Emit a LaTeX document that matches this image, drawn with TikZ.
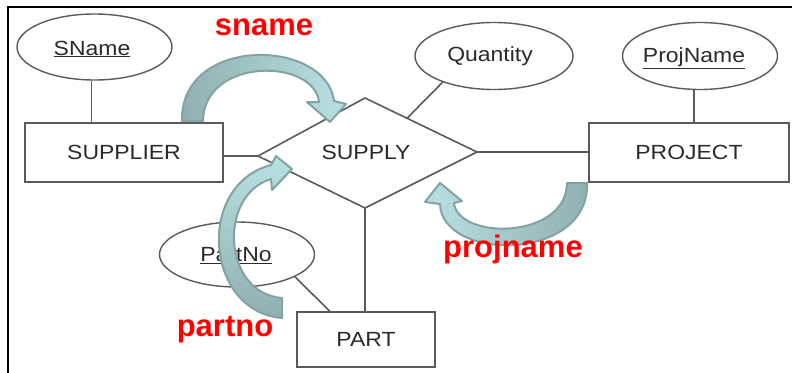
\documentclass[tikz,border=0pt]{standalone}
\usepackage{fontspec}
\setmainfont{Liberation Sans}
\newfontfamily\erfont[FakeStretch=1.12]{Liberation Sans}
\usetikzlibrary{calc,shapes.geometric}
\definecolor{ln}{HTML}{5A5A5A}
\definecolor{tx}{HTML}{2A2A2A}
\definecolor{arrD}{HTML}{84A2A3}
\definecolor{arrM}{HTML}{90AFB0}
\definecolor{arrL}{HTML}{B8E0E3}
\definecolor{lbl}{HTML}{FF0000}
\begin{document}
\begin{tikzpicture}[x=1pt,y=-1pt,
  erfnt/.style={font=\erfont\fontsize{20.5}{24}\selectfont, text=tx},
  ent/.style={erfnt, draw=ln, line width=1.6pt, rectangle, inner sep=0pt},
  attr/.style={draw=ln, line width=1.4pt, ellipse, inner sep=0pt},
  attrtext/.style={erfnt, inner sep=0pt},
  conn/.style={draw=ln, line width=1.6pt},
  blk/.style={draw=arrD, line width=2pt, line join=round},
  lab/.style={text=lbl, font=\bfseries\fontsize{31}{36}\selectfont, anchor=base, inner sep=0pt}]
\useasboundingbox (0,0) rectangle (792,372);
% frame
\draw[line width=2.5pt] (8,373) -- (8,7) -- (793,7);

% entities
\node[ent, minimum width=198, minimum height=59] (supplier) at (124,152.5) {SUPPLIER};
\node[ent, minimum width=200, minimum height=59] (project) at (689,152.5) {PROJECT};
\node[ent, minimum width=138, minimum height=55] (part) at (366,339.5) {PART};

% attributes
\node[attr, minimum width=155, minimum height=66] (sn) at (94.5,47) {};
\node[attrtext] (snT) at (92,49) {\underline{SName}};
\node[attr, minimum width=158, minimum height=67] (qty) at (494,56) {};
\node[attrtext] (qtyT) at (490,56) {Quantity};
\node[attr, minimum width=155, minimum height=67] (pj) at (700,56) {};
\node[attrtext] (pjT) at (694,58) {\underline{ProjName}};
\node[attr, minimum width=155, minimum height=65] (pno) at (237,254.5) {};
\node[attrtext] (pnoT) at (236,256) {\underline{PartNo}};

% relationship
\coordinate (dL) at (258,156);
\coordinate (dT) at (365,98);
\coordinate (dR) at (477,152);
\coordinate (dB) at (365,208);
\draw[conn, line join=miter] (dL) -- (dT) -- (dR) -- (dB) -- cycle;
\node[erfnt, inner sep=0pt] (supply) at (366,152) {SUPPLY};

% connectors
\draw[conn] (sn.265) -- (sn.265 |- supplier.north);
\draw[conn] (dL -| supplier.east) -- (dL);
\draw[conn] (dR) -- (dR -| project.west);
\draw[conn] (dB) -- (dB |- part.north);
\draw[conn] (qty.207) -- ($(dT)!0.375!(dR)$);
\draw[conn] (pj.260) -- (pj.260 |- project.north);
\draw[conn] (pno.-21) -- ($(part.north west)!0.24!(part.north east)$);

% block arrows
\shadedraw[blk, left color=arrM, right color=arrL]
  (182,121) .. controls (180,35) and (326,38) .. (334,101)
  -- (346,104) -- (330,122) -- (307,102) -- (319,102)
  .. controls (314,58) and (204,57) .. (203,121) -- cycle;
\shadedraw[blk, bottom color=arrM, top color=arrL]
  (282,318) .. controls (205,312) and (195,185) .. (271,165)
  -- (276,156) -- (292,169) -- (272,190) -- (271,179)
  .. controls (218,195) and (222,293) .. (282,298) -- cycle;
\shadedraw[blk, right color=arrM, left color=arrL]
  (587,183) .. controls (590,262) and (442,262) .. (440,204)
  -- (425,202) -- (440,183) -- (462,201) -- (454,203)
  .. controls (458,240) and (566,240) .. (567,183) -- cycle;

% labels
\node[lab] (lsname) at (264,35) {sname};
\node[lab] (lproj) at (513,257) {projname};
\node[lab] (lpart) at (225,336) {partno};
\end{tikzpicture}
\end{document}
